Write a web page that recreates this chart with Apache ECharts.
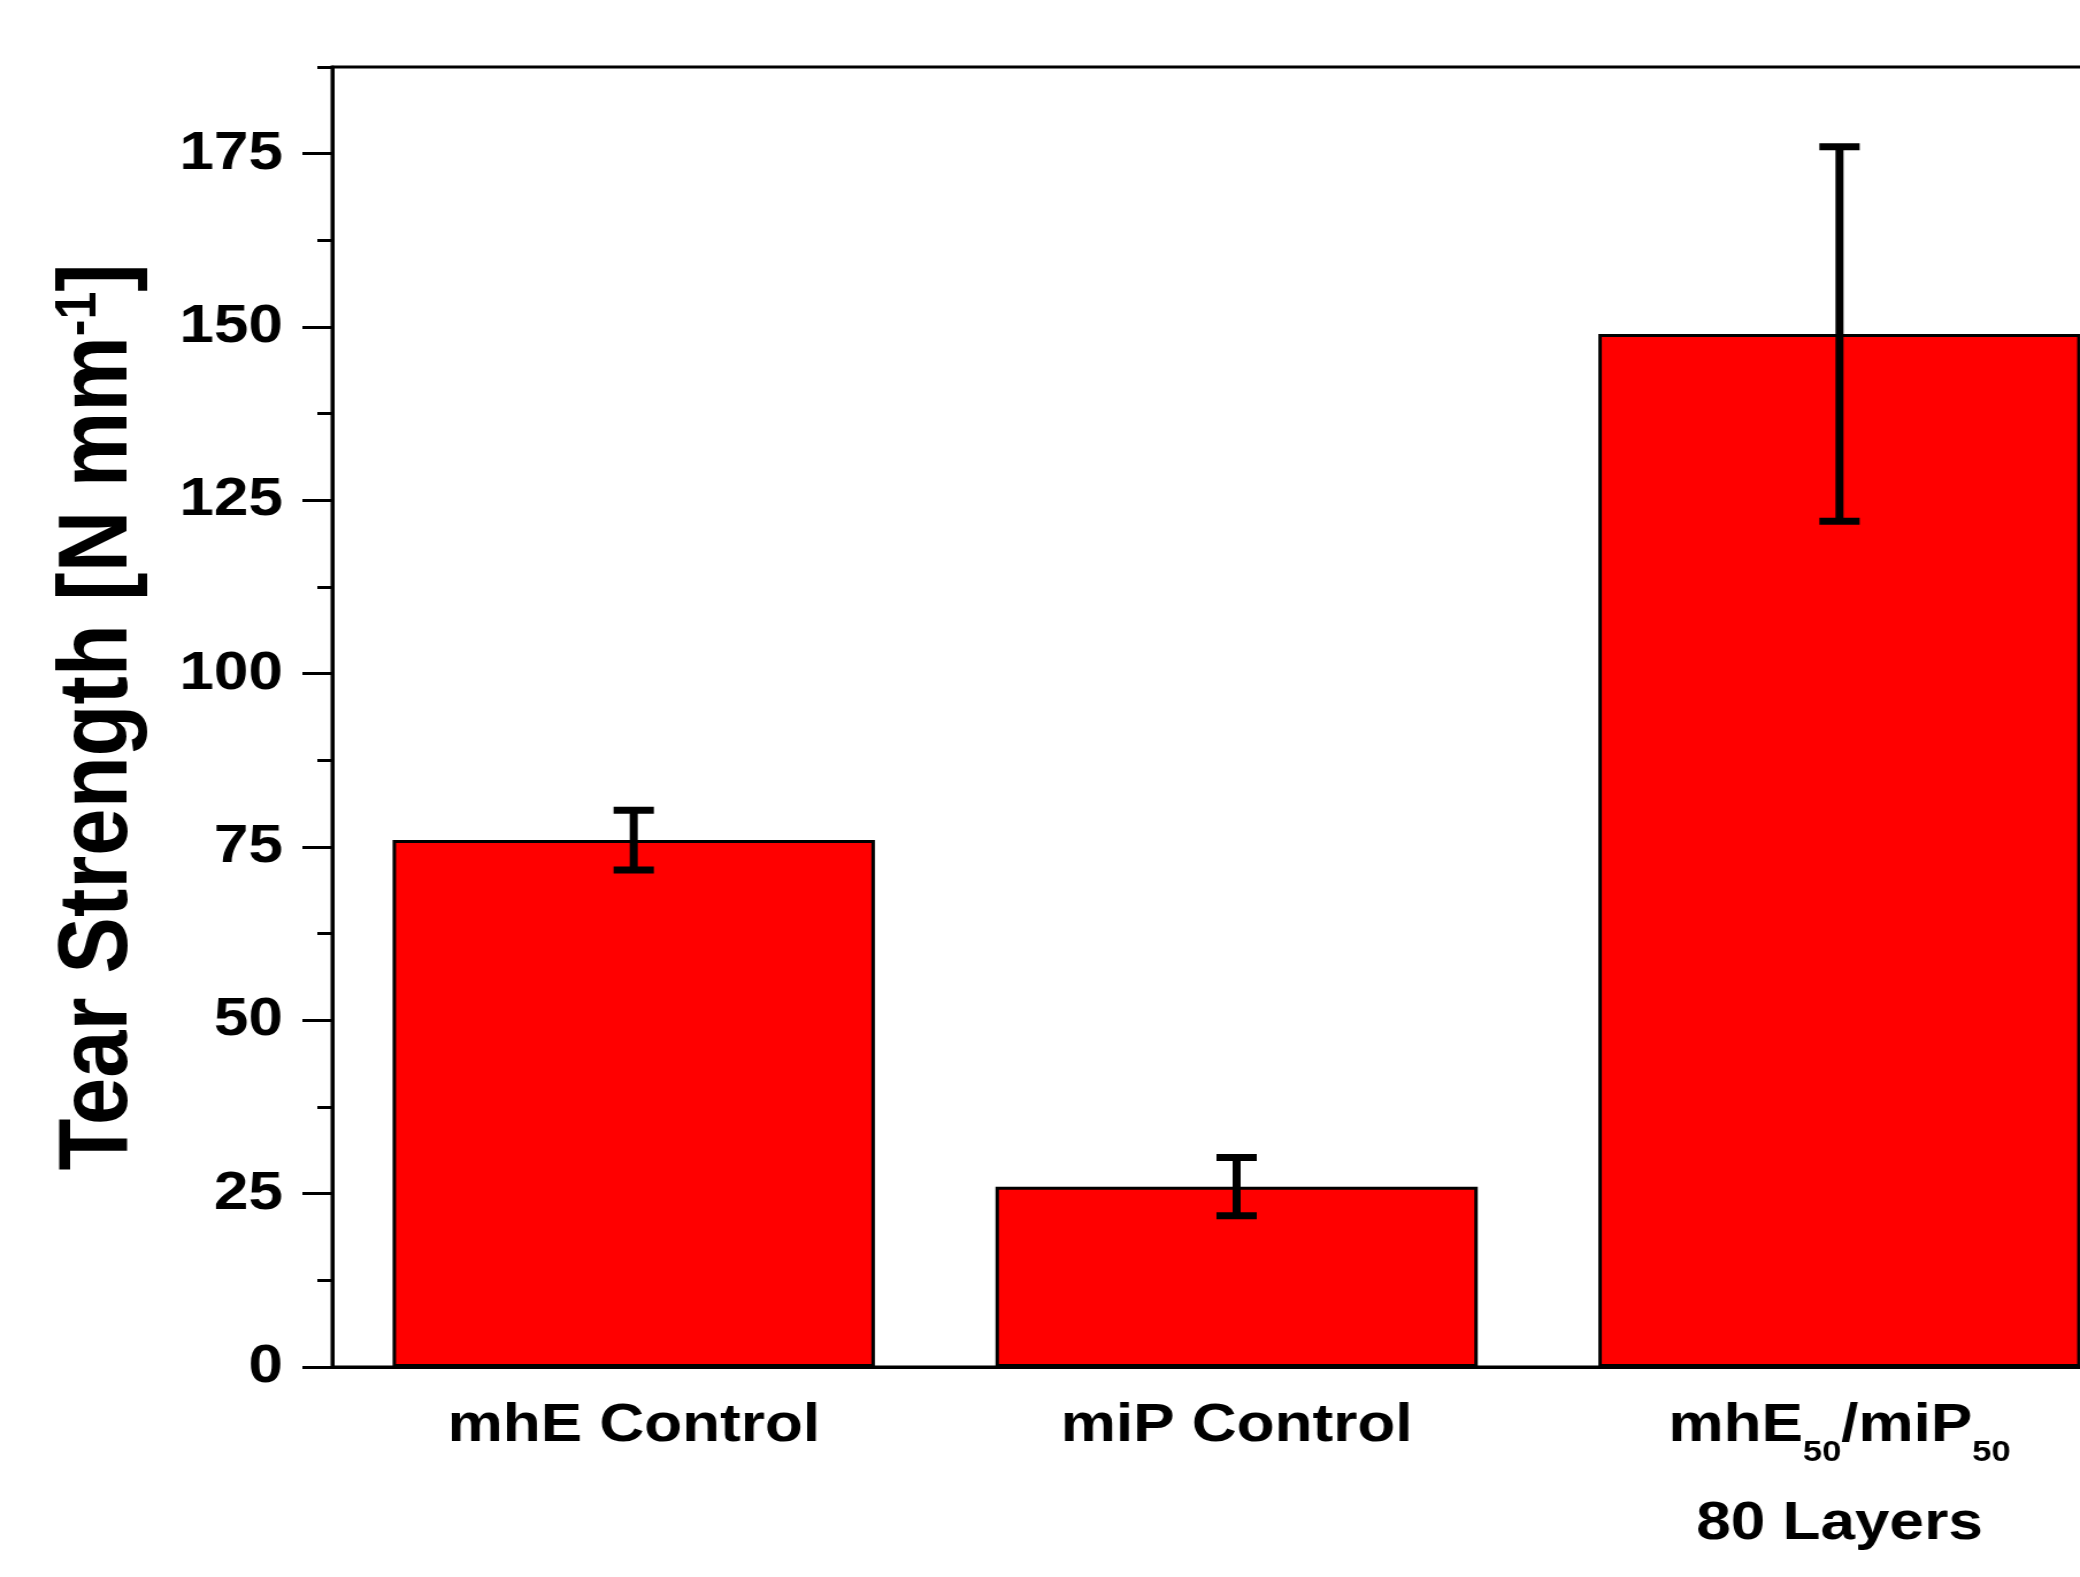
<!DOCTYPE html>
<html>
<head>
<meta charset="utf-8">
<script src="https://cdn.jsdelivr.net/npm/echarts@6/dist/echarts.min.js"></script>
<style>
html, body { margin: 0; padding: 0; background: #fff; overflow: hidden; }
#wrap { width: 2080px; height: 1577px; overflow: hidden; position: relative; }
#chart { width: 1950px; height: 1577px; transform: scaleX(1.1498); transform-origin: 0 0; }
</style>
</head>
<body>
<div id="wrap"><div id="chart"></div></div>
<script>
// ---- data ----
const categories = ['mhE Control', 'miP Control', 'mhE50/miP50 80 Layers'];
const categoryLabels = ['mhE Control', 'miP Control', 'mhE{sub|50}/miP{sub|50}\n80 Layers'];
const meanValues = [76, 26, 149];
const errorValues = [4.3, 4.2, 27];
const yTickValues = [0, 25, 50, 75, 100, 125, 150, 175];
const yAxisTitle = 'Tear Strength [N mm{sup|-1}]';

const FONT = '"Liberation Sans", Arial, sans-serif';
const errData = meanValues.map((v, i) => [i, v - errorValues[i], v + errorValues[i]]);

const chart = echarts.init(document.getElementById('chart'), null, { renderer: 'canvas' });
chart.setOption({
  animation: false,
  backgroundColor: '#fff',
  grid: {
    left: 289, top: 67, width: 1573, height: 1300,
    show: true, borderColor: '#000', borderWidth: 3, backgroundColor: 'transparent'
  },
  xAxis: [{
    type: 'category',
    data: categories,
    position: 'bottom',
    axisLine: { lineStyle: { color: '#000', width: 3 } },
    axisTick: { alignWithLabel: true, length: 30, lineStyle: { color: '#000', width: 3 } },
    axisLabel: {
      interval: 0,
      margin: 10,
      color: '#000',
      fontFamily: FONT,
      fontWeight: 'bold',
      fontSize: 54,
      lineHeight: 98,
      formatter: (v, i) => categoryLabels[i],
      rich: {
        sub: { fontFamily: FONT, fontWeight: 'bold', fontSize: 30, verticalAlign: 'bottom', padding: [0, 0, 7, 0], color: '#000' }
      }
    },
    splitLine: { show: false }
  }],
  yAxis: [{
    type: 'value',
    min: 0, max: 187.5, interval: 25,
    position: 'left',
    name: yAxisTitle,
    nameLocation: 'middle',
    nameRotate: 90,
    nameGap: 160,
    nameTextStyle: {
      color: '#000', fontFamily: FONT, fontWeight: 'bold', fontSize: 85, lineHeight: 85,
      rich: {
        sup: { fontFamily: FONT, fontWeight: 'bold', fontSize: 50, lineHeight: 26, verticalAlign: 'top', color: '#000' }
      }
    },
    axisLine: { show: true, lineStyle: { color: '#000', width: 3 } },
    axisTick: { show: true, length: 26, customValues: yTickValues, lineStyle: { color: '#000', width: 3 } },
    axisLabel: {
      margin: 43, color: '#000', fontFamily: FONT, fontWeight: 'bold', fontSize: 54,
      customValues: yTickValues,
      formatter: v => (v > 175 ? '' : String(v))
    },
    splitLine: { show: false }
  }, {
    type: 'value',
    min: 0, max: 187.5, interval: 12.5,
    position: 'left',
    axisLine: { show: false },
    axisTick: { show: true, length: 13, lineStyle: { color: '#000', width: 3 } },
    axisLabel: { show: false },
    splitLine: { show: false }
  }],
  series: [{
    type: 'bar',
    data: meanValues,
    barWidth: '80%',
    yAxisIndex: 0,
    itemStyle: { color: '#ff0000', borderColor: '#000', borderWidth: 3 }
  }, {
    type: 'custom',
    yAxisIndex: 0,
    data: errData,
    z: 10,
    renderItem: function (params, api) {
      const lo = api.coord([api.value(0), api.value(1)]);
      const hi = api.coord([api.value(0), api.value(2)]);
      const x = lo[0];
      const half = 17.5;
      const st = { stroke: '#000', lineWidth: 7 };
      return {
        type: 'group',
        children: [
          { type: 'line', shape: { x1: x, y1: hi[1], x2: x, y2: lo[1] }, style: st },
          { type: 'line', shape: { x1: x - half, y1: hi[1], x2: x + half, y2: hi[1] }, style: st },
          { type: 'line', shape: { x1: x - half, y1: lo[1], x2: x + half, y2: lo[1] }, style: st }
        ]
      };
    }
  }]
});
</script>
</body>
</html>
